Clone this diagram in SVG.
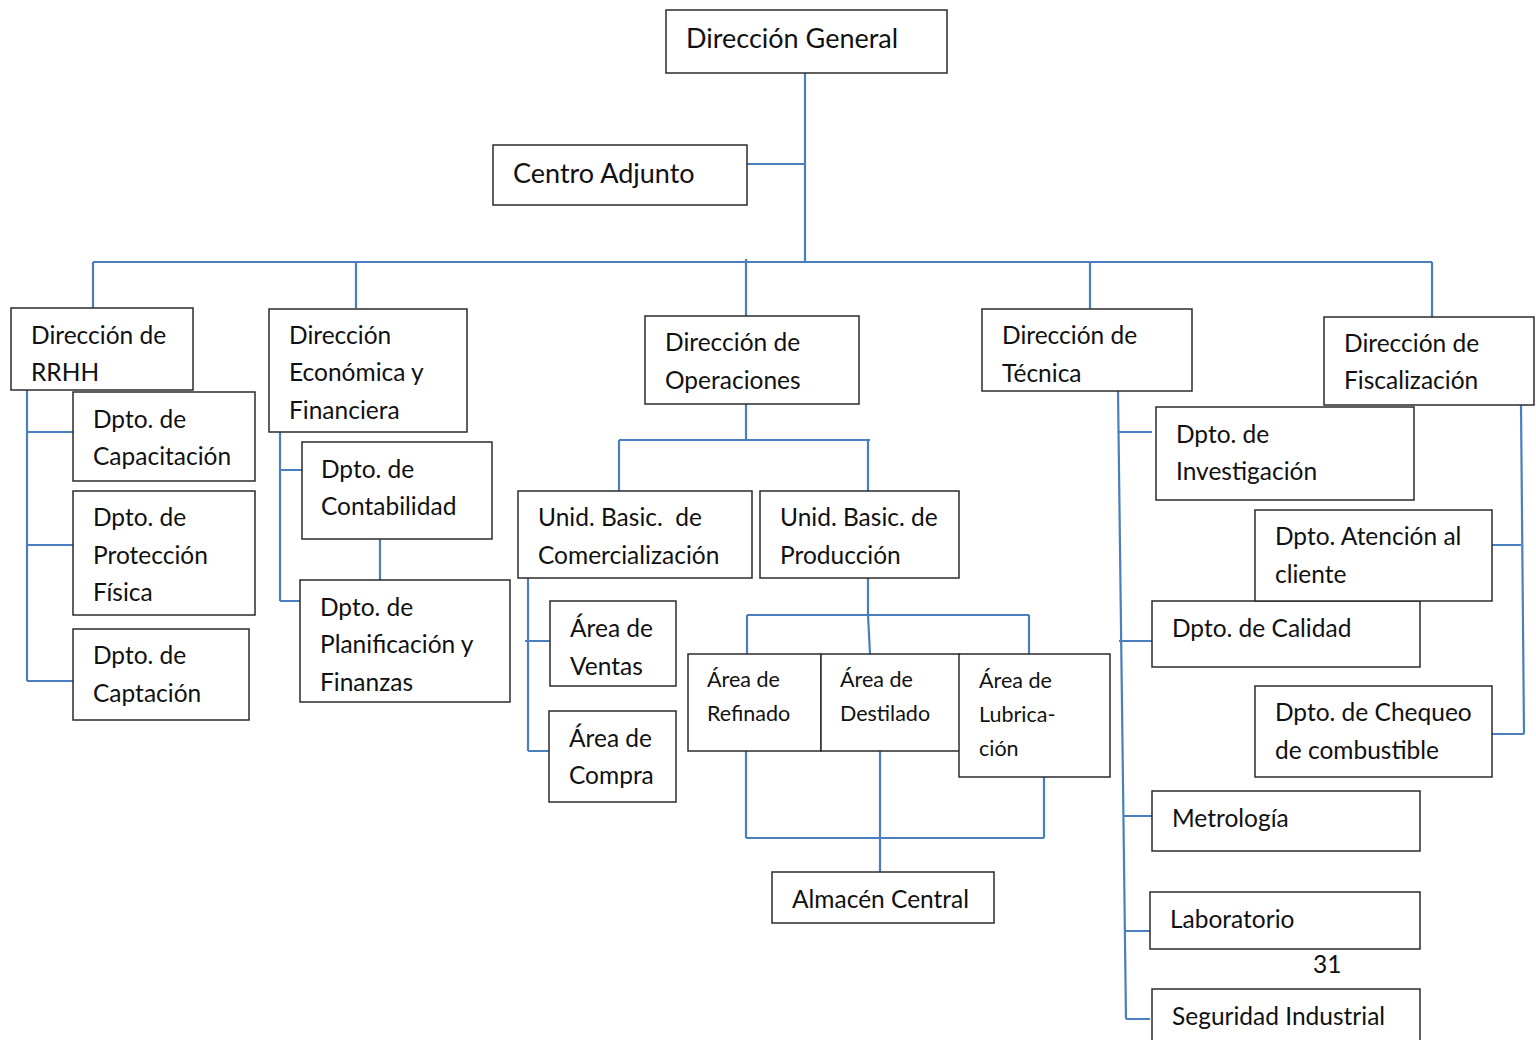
<svg xmlns="http://www.w3.org/2000/svg" width="1536" height="1040" viewBox="0 0 1536 1040">
<style>
.b{fill:#fff;stroke:#2b2b2b;stroke-width:1.5}
text{font-family:Lato,"Open Sans",sans-serif;fill:#111;font-size:24.5px}
.t{font-size:27px}
.s{font-size:21.5px}
.c{fill:none;stroke:#4a7ebf;stroke-width:2.2}
</style>
<rect width="1536" height="1040" fill="#fff"/>
<g id="connectors">
<path class="c" d="M805 73V262M747 164H805M93 262H1432M93 262V308M356 262V308M746 259V316M1090 262V309M1432 262V317"/>
<path class="c" d="M27 390V681M27 432H73M27 545H73M27 681H73"/>
<path class="c" d="M280 432V601M280 470H302M280 601H300M380 539V580"/>
<path class="c" d="M746 404V440M619 440H870M619 440V491M868 440V491"/>
<path class="c" d="M528 578V751M525 641H550M528 751H549"/>
<path class="c" d="M868 578V615M747 615H1029M747 615V654M868 615L870 654M1029 615V654"/>
<path class="c" d="M746 751V838M880 751V872M1044 777V838M746 838H1044"/>
<path class="c" d="M1118 391L1126 1019M1118 432H1152M1119 641H1152M1124 816H1152M1125 931H1152M1126 1019H1150"/>
<path class="c" d="M1521 405L1524 734M1492 545H1521M1492 734H1524"/>
</g>
<g id="dg"><rect class="b" x="666" y="10" width="281" height="63"/><text class="t" x="686" y="48">Dirección General</text></g>
<g id="ca"><rect class="b" x="493" y="145" width="254" height="60"/><text class="t" x="513" y="183">Centro Adjunto</text></g>
<g id="rrhh"><rect class="b" x="11" y="308" width="182" height="82"/><text x="31" y="344">Dirección de</text><text x="31" y="381">RRHH</text></g>
<g id="capacitacion"><rect class="b" x="73" y="392" width="182" height="89"/><text x="93" y="428">Dpto. de</text><text x="93" y="465">Capacitación</text></g>
<g id="proteccion"><rect class="b" x="73" y="491" width="182" height="124"/><text x="93" y="526">Dpto. de</text><text x="93" y="564">Protección</text><text x="93" y="601">Física</text></g>
<g id="captacion"><rect class="b" x="73" y="629" width="176" height="91"/><text x="93" y="664">Dpto. de</text><text x="93" y="702">Captación</text></g>
<g id="economica"><rect class="b" x="269" y="309" width="198" height="123"/><text x="289" y="344">Dirección</text><text x="289" y="381">Económica y</text><text x="289" y="419">Financiera</text></g>
<g id="contabilidad"><rect class="b" x="302" y="442" width="190" height="97"/><text x="321" y="478">Dpto. de</text><text x="321" y="515">Contabilidad</text></g>
<g id="planificacion"><rect class="b" x="300" y="580" width="210" height="122"/><text x="320" y="616">Dpto. de</text><text x="320" y="653">Planificación y</text><text x="320" y="691">Finanzas</text></g>
<g id="operaciones"><rect class="b" x="645" y="316" width="214" height="88"/><text x="665" y="351">Dirección de</text><text x="665" y="389">Operaciones</text></g>
<g id="comercializacion"><rect class="b" x="518" y="491" width="234" height="87"/><text x="538" y="526" xml:space="preserve">Unid. Basic.  de</text><text x="538" y="564">Comercialización</text></g>
<g id="produccion"><rect class="b" x="760" y="491" width="199" height="87"/><text x="780" y="526">Unid. Basic. de</text><text x="780" y="564">Producción</text></g>
<g id="ventas"><rect class="b" x="550" y="601" width="126" height="85"/><text x="570" y="637">Área de</text><text x="570" y="675">Ventas</text></g>
<g id="compra"><rect class="b" x="549" y="711" width="127" height="91"/><text x="569" y="747">Área de</text><text x="569" y="784">Compra</text></g>
<g id="refinado"><rect class="b" x="688" y="654" width="133" height="97"/><text class="s" x="707" y="687">Área de</text><text class="s" x="707" y="721">Refinado</text></g>
<g id="destilado"><rect class="b" x="821" y="654" width="139" height="97"/><text class="s" x="840" y="687">Área de</text><text class="s" x="840" y="721">Destilado</text></g>
<g id="lubricacion"><rect class="b" x="959" y="654" width="151" height="123"/><text class="s" x="979" y="688">Área de</text><text class="s" x="979" y="722">Lubrica-</text><text class="s" x="979" y="756">ción</text></g>
<g id="almacen"><rect class="b" x="772" y="872" width="222" height="51"/><text x="792" y="908">Almacén Central</text></g>
<g id="tecnica"><rect class="b" x="982" y="309" width="210" height="82"/><text x="1002" y="344">Dirección de</text><text x="1002" y="382">Técnica</text></g>
<g id="investigacion"><rect class="b" x="1156" y="407" width="258" height="93"/><text x="1176" y="443">Dpto. de</text><text x="1176" y="480">Investigación</text></g>
<g id="calidad"><rect class="b" x="1152" y="601" width="268" height="66"/><text x="1172" y="637">Dpto. de Calidad</text></g>
<g id="metrologia"><rect class="b" x="1152" y="791" width="268" height="60"/><text x="1172" y="827">Metrología</text></g>
<g id="laboratorio"><rect class="b" x="1150" y="892" width="270" height="57"/><text x="1170" y="928">Laboratorio</text></g>
<g id="seguridad"><rect class="b" x="1152" y="989" width="268" height="60"/><text x="1172" y="1025">Seguridad Industrial</text></g>
<g id="fiscalizacion"><rect class="b" x="1324" y="317" width="210" height="88"/><text x="1344" y="352">Dirección de</text><text x="1344" y="389">Fiscalización</text></g>
<g id="atencion"><rect class="b" x="1255" y="510" width="237" height="91"/><text x="1275" y="545">Dpto. Atención al</text><text x="1275" y="583">cliente</text></g>
<g id="chequeo"><rect class="b" x="1255" y="686" width="237" height="91"/><text x="1275" y="721">Dpto. de Chequeo</text><text x="1275" y="759">de combustible</text></g>
<text x="1313" y="973">31</text>
</svg>
